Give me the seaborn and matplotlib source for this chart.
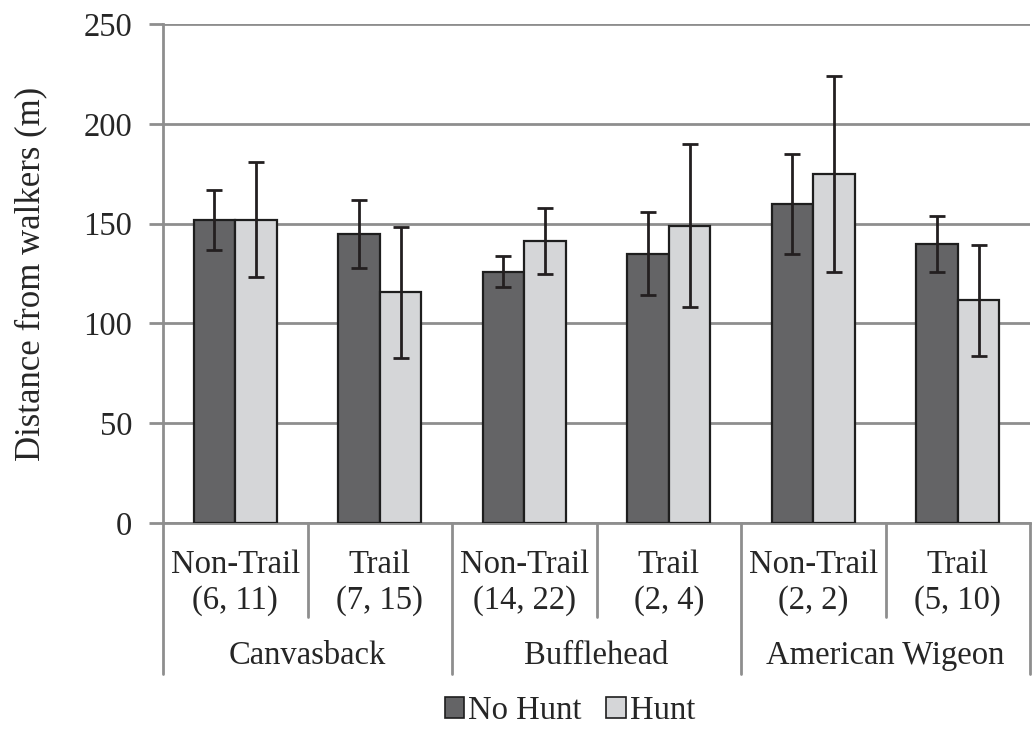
import numpy as np
import pandas as pd
import matplotlib
matplotlib.use("Agg")
import matplotlib.pyplot as plt
import matplotlib.transforms as mtransforms
from matplotlib.patches import Patch
import seaborn as sns

# Mean flight-initiation distance and error (m) per species / site type / hunting status
species = ["Canvasback", "Bufflehead", "American Wigeon"]
sites = ["Non-Trail", "Trail"]
sample_sizes = ["(6, 11)", "(7, 15)", "(14, 22)", "(2, 4)", "(2, 2)", "(5, 10)"]
hunt_levels = ["No Hunt", "Hunt"]

no_hunt_mean = [152, 145, 126, 135, 160, 140]
no_hunt_err = [15, 17, 8, 21, 25, 14]
hunt_mean = [152, 115.5, 141.5, 149, 175, 111.5]
hunt_err = [29, 33, 16.5, 41, 49, 28]

sns.set_style("white")
plt.rcParams["font.family"] = ["Liberation Serif", "DejaVu Serif"]

FS = 23.5

groups = [f"{sp}|{st}" for sp in species for st in sites]
df = pd.DataFrame({
    "group": groups * 2,
    "status": [hunt_levels[0]] * 6 + [hunt_levels[1]] * 6,
    "distance": no_hunt_mean + hunt_mean,
    "err": no_hunt_err + hunt_err,
})

dark = "#646466"
light = "#d5d6d8"
grid_c = "#8e8e8e"

fig = plt.figure(figsize=(10.32, 7.29), dpi=100)
ax = fig.add_axes([163 / 1032, 1 - 523 / 729, 867 / 1032, 499 / 729])

sns.barplot(data=df, x="group", y="distance", hue="status", order=groups,
            hue_order=hunt_levels, palette=[dark, light], width=0.577,
            errorbar=None, edgecolor="#1e1e1e", linewidth=1.6,
            legend=False, ax=ax, zorder=3)

# error bars centred on each drawn bar
for container, errs in zip(ax.containers, [no_hunt_err, hunt_err]):
    for patch, e in zip(container.patches, errs):
        cx = patch.get_x() + patch.get_width() / 2
        ax.errorbar(cx, patch.get_height(), yerr=e, fmt="none",
                    ecolor="#231f20", elinewidth=2, capsize=6,
                    capthick=2, zorder=4)

ax.set_ylim(0, 250)
ax.set_yticks(np.arange(0, 251, 50))
ax.set_xlim(-0.5, len(groups) - 0.5)
ax.yaxis.grid(True, color=grid_c, linewidth=2)
ax.set_axisbelow(True)

for side in ["top", "right"]:
    ax.spines[side].set_visible(False)
for side in ["left", "bottom"]:
    ax.spines[side].set_color(grid_c)
    ax.spines[side].set_linewidth(2)

ax.tick_params(axis="y", which="major", length=10, width=2, color=grid_c,
               direction="out", pad=12, labelsize=FS, left=True)
ax.tick_params(axis="x", length=0, pad=19, labelsize=FS)
ax.set_xticks(range(len(groups)))
ax.set_xticklabels([f"{groups[i].split('|')[1]}\n{sample_sizes[i]}"
                    for i in range(len(groups))], linespacing=1.22)

ax.set_xlabel("")
ax.set_ylabel("Distance from walkers (m)", fontsize=25, labelpad=26)

# hierarchical category axis: separators and species names
trans = mtransforms.blended_transform_factory(ax.transData, ax.transAxes)
for k in range(len(groups) + 1):
    x = k - 0.5
    y_end = -0.302 if k % 2 == 0 else -0.188
    ax.plot([x, x], [0, y_end], transform=trans, color=grid_c,
            linewidth=2, clip_on=False, zorder=1)
for j, sp in enumerate(species):
    ax.text(2 * j + 0.5, -0.267, sp, transform=trans, ha="center",
            va="center", fontsize=FS)

handles = [Patch(facecolor=dark, edgecolor="#1e1e1e", linewidth=1.2),
           Patch(facecolor=light, edgecolor="#1e1e1e", linewidth=1.2)]
fig.legend(handles, hunt_levels, loc="center",
           bbox_to_anchor=(570 / 1032, 1 - 711 / 729), ncol=2, frameon=False,
           fontsize=FS, handlelength=0.6, handleheight=0.6,
           handletextpad=0.12, columnspacing=0.75, borderaxespad=0,
           borderpad=0)

fig.savefig("out.png", dpi=100)
